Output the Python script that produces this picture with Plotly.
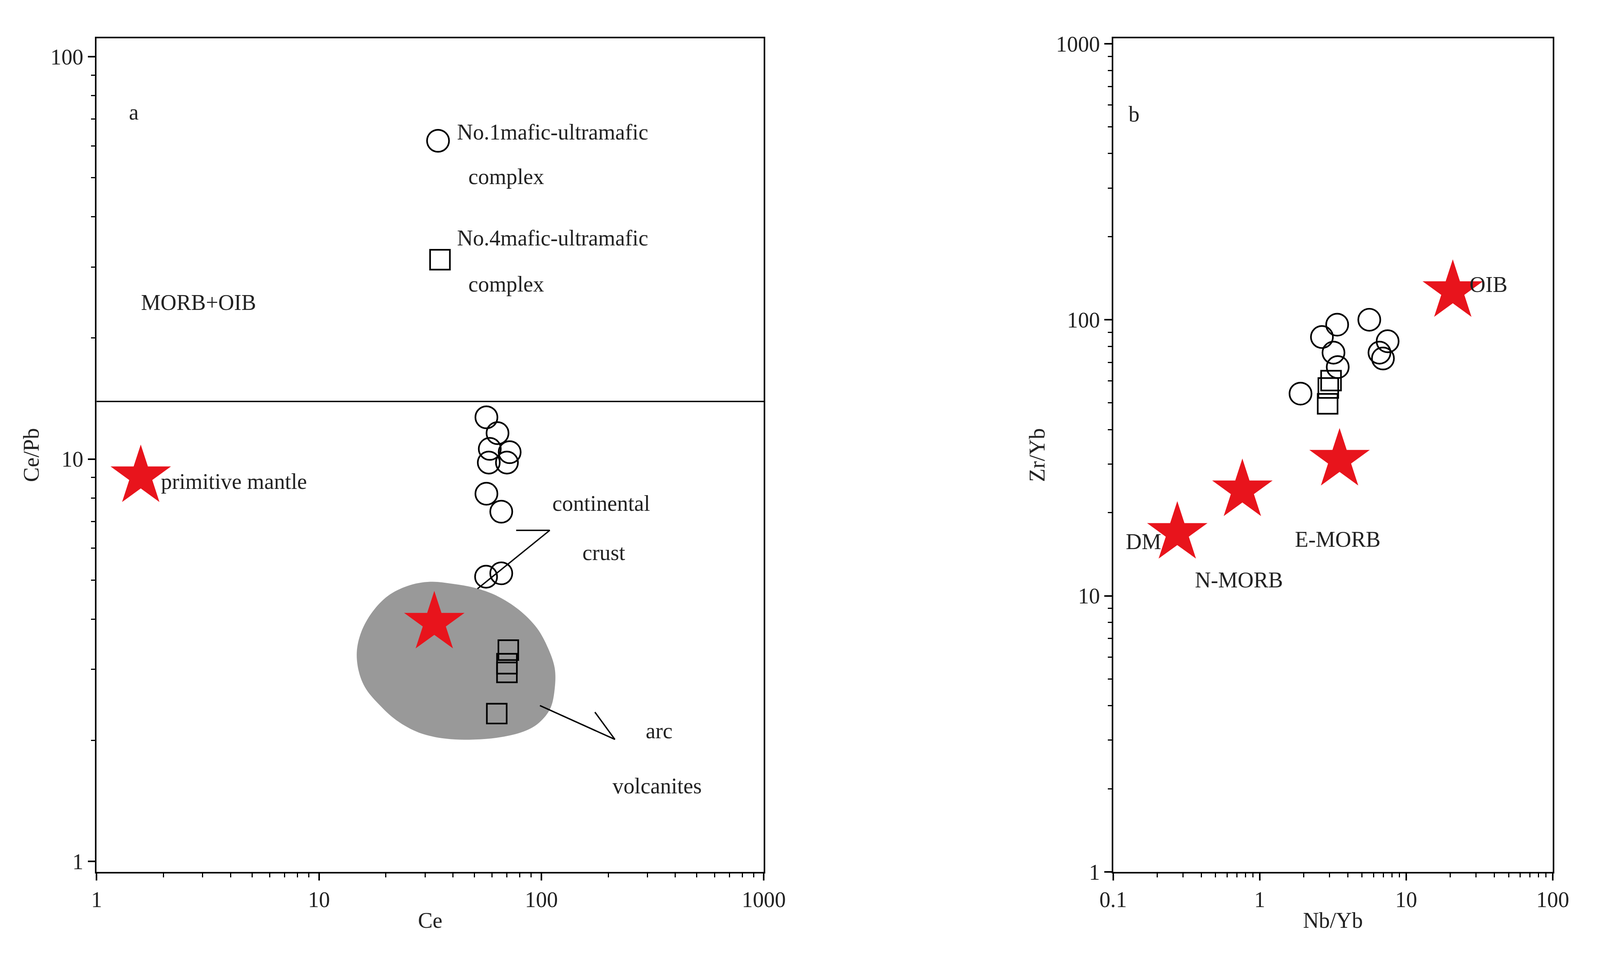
import plotly.graph_objects as go
import numpy as np

# ---- panel a data ----
a_circ_x = [56.6, 63.5, 58.6, 72, 70, 58, 56.6, 66, 56.4, 66]
a_circ_y = [12.7, 11.6, 10.6, 10.4, 9.8, 9.8, 8.2, 7.4, 5.1, 5.2]
a_sq_x = [71, 70, 70, 63]
a_sq_y = [3.35, 3.1, 2.95, 2.33]
a_star_x = [1.58, 33]
a_star_y = [9.06, 3.92]
a_div_y = 13.9
# arc-volcanite field outline (log10 Ce, log10 Ce/Pb)
field_lx = [1.17, 1.19, 1.24, 1.31, 1.40, 1.50, 1.60, 1.70, 1.80, 1.90, 1.98, 2.03, 2.06, 2.06, 2.04,
            1.99, 1.93, 1.83, 1.70, 1.57, 1.45, 1.35, 1.27, 1.21, 1.18, 1.17]
field_ly = [0.52, 0.57, 0.62, 0.66, 0.685, 0.695, 0.69, 0.68, 0.66, 0.625, 0.58, 0.53, 0.48, 0.43, 0.38,
            0.345, 0.325, 0.31, 0.303, 0.305, 0.32, 0.35, 0.39, 0.43, 0.47, 0.52]
cc_line_x = [51.6, 109, 77]
cc_line_y = [4.76, 6.65, 6.65]
arc_line_x = [98.5, 214, 174]
arc_line_y = [2.44, 2.01, 2.35]

# ---- panel b data ----
b_circ_x = [1.90, 2.66, 3.38, 3.19, 3.41, 5.6, 6.57, 6.94, 7.47]
b_circ_y = [54, 86.6, 96, 76, 67.4, 100, 76, 72.4, 83.6]
b_sq_x = [2.91, 2.94, 3.07]
b_sq_y = [49.6, 56.6, 60.2]
b_star_x = [0.274, 0.762, 3.51, 20.8]
b_star_y = [16.9, 24.1, 31.1, 127]
b_star_lab = ["DM", "N-MORB", "E-MORB", "OIB"]
b_lab_x = [0.161, 0.72, 3.41, 36.4]
b_lab_y = [15.7, 11.4, 16.0, 134]

K = 1 / 1.42
F = "Liberation Serif"
FS = 80 * K
circ = dict(symbol="circle-open", size=80 * K, color="black", line=dict(width=6 * K, color="black"))
sq = dict(symbol="square-open", size=72 * K, color="black", line=dict(width=6 * K, color="black"))
star = dict(symbol="star", size=165 * K, color="#e8141c", line=dict(width=0))
LW = 5 * K

fig = go.Figure()
fig.add_trace(go.Scatter(x=[10**v for v in field_lx], y=[10**v for v in field_ly], fill="toself",
                         fillcolor="#999999", line=dict(width=0, color="#999999", shape="spline"), mode="lines",
                         xaxis="x", yaxis="y", showlegend=False))
fig.add_trace(go.Scatter(x=[1, 1000], y=[a_div_y, a_div_y], mode="lines", line=dict(color="black", width=LW),
                         xaxis="x", yaxis="y", showlegend=False))
fig.add_trace(go.Scatter(x=cc_line_x, y=cc_line_y, mode="lines", line=dict(color="black", width=LW),
                         xaxis="x", yaxis="y", showlegend=False))
fig.add_trace(go.Scatter(x=arc_line_x, y=arc_line_y, mode="lines", line=dict(color="black", width=LW),
                         xaxis="x", yaxis="y", showlegend=False))
fig.add_trace(go.Scatter(x=a_circ_x, y=a_circ_y, mode="markers", marker=circ, xaxis="x", yaxis="y", showlegend=False))
fig.add_trace(go.Scatter(x=a_sq_x, y=a_sq_y, mode="markers", marker=sq, xaxis="x", yaxis="y", showlegend=False))
fig.add_trace(go.Scatter(x=a_star_x, y=a_star_y, mode="markers", marker=star, xaxis="x", yaxis="y", showlegend=False))
fig.add_trace(go.Scatter(x=[34.3], y=[61.8], mode="markers", marker=circ, xaxis="x", yaxis="y", showlegend=False))
fig.add_trace(go.Scatter(x=[35], y=[31.3], mode="markers", marker=sq, xaxis="x", yaxis="y", showlegend=False))

fig.add_trace(go.Scatter(x=b_circ_x, y=b_circ_y, mode="markers", marker=circ, xaxis="x2", yaxis="y2", showlegend=False))
fig.add_trace(go.Scatter(x=b_sq_x, y=b_sq_y, mode="markers", marker=sq, xaxis="x2", yaxis="y2", showlegend=False))
fig.add_trace(go.Scatter(x=b_star_x, y=b_star_y, mode="markers", marker=star, xaxis="x2", yaxis="y2", showlegend=False))

def txt(x, y, t, ref="", anchor="center"):
    fig.add_annotation(x=np.log10(x), y=np.log10(y), text=t, showarrow=False, xanchor=anchor,
                       xref="x" + ref, yref="y" + ref, font=dict(family=F, size=FS, color="#222"))

txt(1.47, 72.8, "a")
txt(2.88, 24.5, "MORB+OIB")
txt(1.93, 8.8, "primitive mantle", anchor="left")
txt(186, 7.76, "continental")
txt(191, 5.85, "crust")
txt(339, 2.11, "arc")
txt(331, 1.54, "volcanites")
txt(41.5, 64.9, "No.1mafic-ultramafic", anchor="left")
txt(46.5, 50.3, "complex", anchor="left")
txt(41.5, 35.4, "No.4mafic-ultramafic", anchor="left")
txt(46.5, 27.2, "complex", anchor="left")
txt(0.139, 555, "b", ref="2")
for lx, ly, t in zip(b_lab_x, b_lab_y, b_star_lab):
    txt(lx, ly, t, ref="2")

tf = dict(family=F, size=FS, color="#222")
ax = dict(type="log", showgrid=False, zeroline=False, showline=True, linecolor="black", linewidth=6 * K,
          mirror=True, ticks="outside", ticklen=26 * K, tickwidth=5 * K, tickcolor="black",
          tickfont=tf, dtick=1,
          minor=dict(ticks="outside", ticklen=14 * K, tickwidth=4 * K, tickcolor="black", showgrid=False))
fig.update_layout(
    autosize=True, margin=dict(l=0, r=0, t=0, b=0),
    plot_bgcolor="white", paper_bgcolor="white",
    xaxis=dict(ax, domain=[0.0512, 0.4794], range=[0, 3.0], title=dict(text="Ce", font=tf, standoff=4), anchor="y"),
    yaxis=dict(ax, domain=[0.1018, 0.97], range=[-0.026, 2.046], title=dict(text="Ce/Pb", font=tf, standoff=12), anchor="x"),
    xaxis2=dict(ax, domain=[0.7036, 0.9857], range=[-1, 2.0], title=dict(text="Nb/Yb", font=tf, standoff=4), anchor="y2"),
    yaxis2=dict(ax, domain=[0.1018, 0.97], range=[0, 3.02], title=dict(text="Zr/Yb", font=tf, standoff=12), anchor="x2"),
)
fig.write_html("out.html", default_width="100%", default_height="100vh",
               config={"responsive": True})
